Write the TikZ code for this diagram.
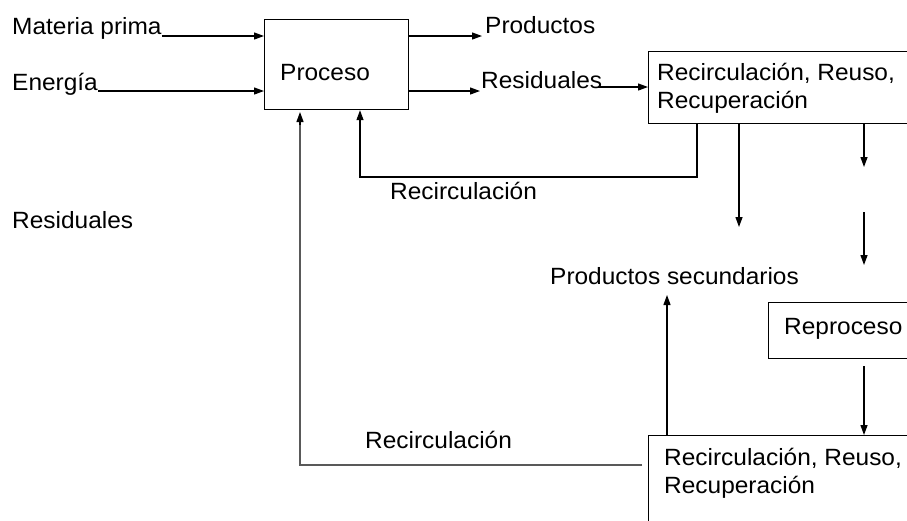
\documentclass[tikz,border=0pt]{standalone}
\usepackage{fontspec}
\setmainfont[FakeStretch=1.04]{Liberation Sans}
\usetikzlibrary{arrows.meta}
\begin{document}
\begin{tikzpicture}[x=1pt,y=-1pt,
  txt/.style={anchor=base west,inner sep=0pt,font=\fontsize{23.5}{28}\selectfont},
  box/.style={draw,line width=1.2pt,anchor=north west,inner sep=0pt},
  ln/.style={line width=1.2pt},
  arr/.style={line width=1.2pt,-{Triangle[length=10pt,width=7pt]}},
  grayln/.style={line width=1.6pt,draw=black!65}]
\useasboundingbox (0,0) rectangle (907,520);
\clip (0,0) rectangle (907,520);
\fill[white] (0,0) rectangle (907,520);
% boxes
\node[box,minimum width=144pt,minimum height=90pt] (proc) at (264,19) {};
\node[box,minimum width=266pt,minimum height=72pt] (r1) at (648,51) {};
\node[box,minimum width=146pt,minimum height=56pt] (rep) at (768,302) {};
\node[box,minimum width=266pt,minimum height=100pt] (r2) at (648,435) {};
% texts
\node[txt] (mp) at (12,34) {Materia prima};
\node[txt] (en) at (12,90) {Energía};
\node[txt] (proct) at (280,80) {Proceso};
\node[txt] (prod) at (485,33) {Productos};
\node[txt] (res) at (481,88) {Residuales};
\node[txt] (r1a) at (657,80) {Recirculación, Reuso,};
\node[txt] (r1b) at (657,108) {Recuperación};
\node[txt] (rec1) at (390,199) {Recirculación};
\node[txt] (resl) at (12,228) {Residuales};
\node[txt] (ps) at (550,284) {Productos secundarios};
\node[txt] (rept) at (784,334) {Reproceso};
\node[txt] (r2a) at (664,465) {Recirculación, Reuso,};
\node[txt] (r2b) at (664,493) {Recuperación};
\node[txt] (rec2) at (365,448) {Recirculación};
% free coordinates
\coordinate (c1) at (739,227);
\coordinate (c2) at (864,167);
\coordinate (c3) at (864,212);
\coordinate (c4) at (864,265);
\coordinate (c5) at (864,366);
\coordinate (c6) at (642,465);
% connectors
\draw[arr] (mp.base east) ++(0,2) -- (proc.west |- 0,36);
\draw[arr] (en.base east) ++(0,1) -- (proc.west |- 0,91);
\draw[arr] (proc.east |- 0,36) -- (482,36);
\draw[arr] (proc.east |- 0,91) -- (480,91);
\draw[arr] (598,87) -- (r1.west |- 0,87);
\draw[arr] (r1.south -| 697,0) -- (697,177) -- (360,177) -- (proc.south -| 360,0);
\draw[arr] (r1.south -| c1) -- (c1);
\draw[arr] (r1.south -| c2) -- (c2);
\draw[arr] (c3) -- (c4);
\draw[arr] (c5) -- (r2.north -| c5);
\draw[arr] (r2.north -| 667,0) -- (667,295);
\draw[grayln] (c6) -- (300,465) -- (300,120);
\draw[arr] (300,125) -- (300,112);
\end{tikzpicture}
\end{document}
